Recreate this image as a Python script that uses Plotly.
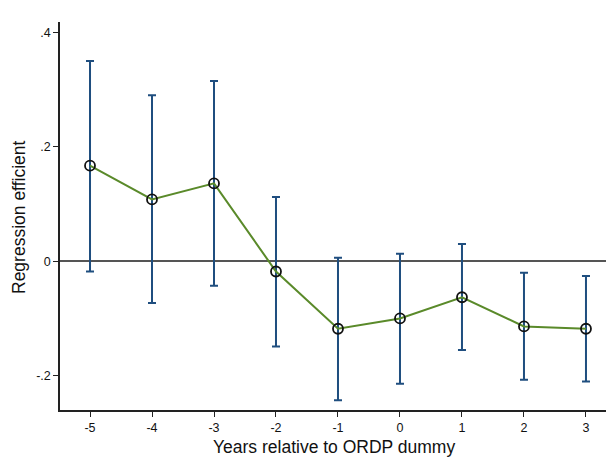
import plotly.graph_objects as go

years = [-5, -4, -3, -2, -1, 0, 1, 2, 3]
x_ticktext = ["-5", "-4", "-3", "-2", "-1", "0", "1", "2", "3"]
coef = [0.167, 0.108, 0.136, -0.018, -0.118, -0.100, -0.063, -0.114, -0.118]
ci_high = [0.350, 0.290, 0.315, 0.112, 0.006, 0.013, 0.030, -0.020, -0.026]
ci_low = [-0.018, -0.073, -0.043, -0.149, -0.243, -0.214, -0.155, -0.207, -0.210]
y_tickvals = [-0.2, 0, 0.2, 0.4]
y_ticktext = ["-.2", "0", ".2", ".4"]

err_plus = [h - c for h, c in zip(ci_high, coef)]
err_minus = [c - l for c, l in zip(coef, ci_low)]

fig = go.Figure()
fig.add_trace(go.Scatter(
    x=years, y=coef, mode="markers",
    marker=dict(size=1, color="rgba(0,0,0,0)"),
    error_y=dict(type="data", symmetric=False, array=err_plus, arrayminus=err_minus,
                 color="#1f4e7f", thickness=2, width=4),
    showlegend=False, hoverinfo="skip",
))
fig.add_trace(go.Scatter(
    x=years, y=coef, mode="lines+markers",
    line=dict(color="#5a8a2a", width=2),
    marker=dict(symbol="circle-open", size=10, color="#111111", line=dict(width=1.8, color="#111111")),
    showlegend=False,
))

fig.update_layout(
    width=606, height=458,
    margin=dict(l=60, r=0, t=22, b=48),
    paper_bgcolor="white", plot_bgcolor="white",
    font=dict(family="Liberation Sans, Arial, sans-serif", color="#111111"),
    xaxis=dict(
        range=[-5.484, 3.323], tickvals=years, ticktext=x_ticktext, ticks="outside",
        ticklen=5, tickwidth=1.3, automargin=False,
        tickcolor="#222", showline=True, linecolor="#222", linewidth=1.5,
        showgrid=False, zeroline=False, tickfont=dict(size=12.5),
    ),
    yaxis=dict(
        range=[-0.260, 0.418], tickvals=y_tickvals, ticktext=y_ticktext,
        ticks="outside", ticklen=5, tickwidth=1.3, tickcolor="#222", automargin=False,
        showline=True, linecolor="#222", linewidth=1.5, showgrid=False,
        zeroline=True, zerolinecolor="#555555", zerolinewidth=1.5,
        tickfont=dict(size=12.5),
    ),
    annotations=[
        dict(text="Years relative to ORDP dummy", xref="paper", yref="paper",
             x=(334 - 60) / 546, y=-(447 - 410) / 388, xanchor="center", yanchor="middle",
             showarrow=False, font=dict(size=17.5)),
        dict(text="Regression efficient", xref="paper", yref="paper",
             x=(19 - 60) / 546, y=(410 - 217) / 388, xanchor="center", yanchor="middle",
             textangle=-90, showarrow=False, font=dict(size=17.5)),
    ],
)

fig.write_html("out.html", config={"displayModeBar": False},
               post_script="document.body.style.margin='0';document.body.style.overflow='hidden';")
